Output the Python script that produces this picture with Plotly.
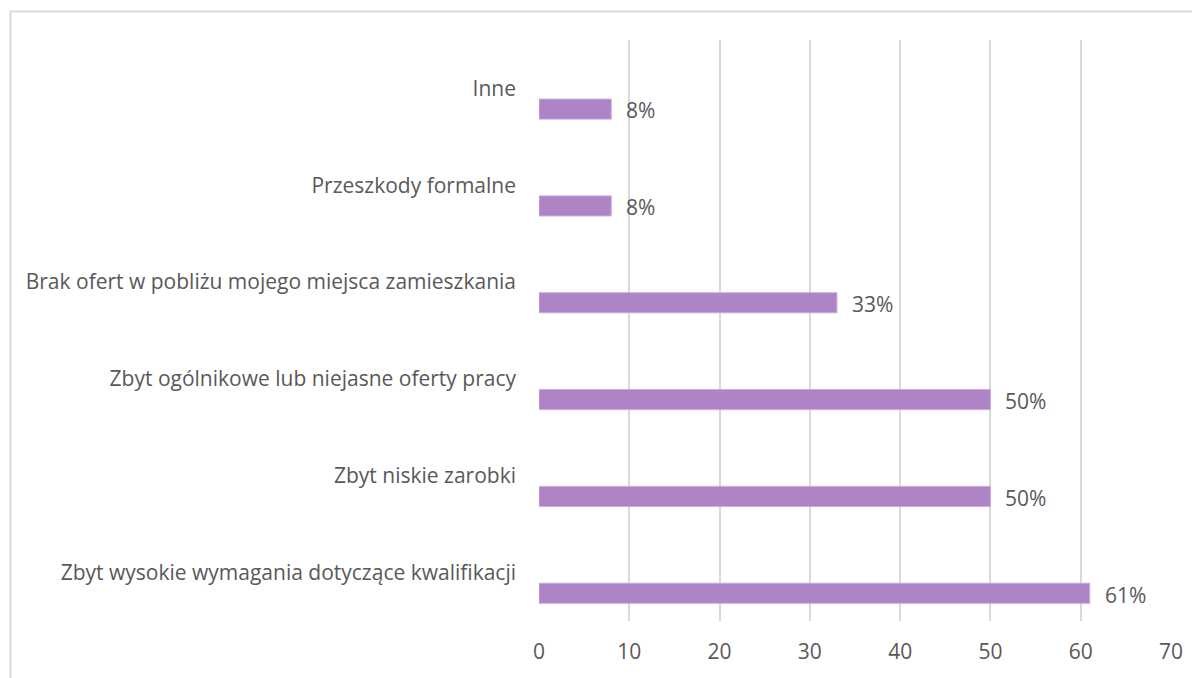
import plotly.graph_objects as go

# Categories listed bottom -> top
categories = [
    "Zbyt wysokie wymagania dotyczące kwalifikacji",
    "Zbyt niskie zarobki",
    "Zbyt ogólnikowe lub niejasne oferty pracy",
    "Brak ofert w pobliżu mojego miejsca zamieszkania",
    "Przeszkody formalne",
    "Inne",
]
values = [61, 50, 50, 33, 8, 8]
labels = ["61%", "50%", "50%", "33%", "8%", "8%"]
x_ticks = [0, 10, 20, 30, 40, 50, 60, 70]

text_color = "#595959"
bar_color = "#AE84C6"
font_family = "'Open Sans', sans-serif"
font_size = 21

fig = go.Figure()
fig.add_trace(go.Bar(
    x=values,
    y=categories,
    orientation="h",
    marker=dict(color=bar_color, line=dict(color="#C9A9DA", width=1)),
    width=0.207,
    offset=-0.317,
    hoverinfo="x+y",
))

# data labels to the right of each bar, level with the (offset) bar
for c, v, t in zip(categories, values, labels):
    fig.add_annotation(
        x=v, y=c, text=t, showarrow=False,
        xanchor="left", yanchor="middle",
        xshift=13, yshift=-22,
        font=dict(family=font_family, size=font_size, color=text_color),
    )

# light frame around the chart
fig.add_shape(
    type="rect", xref="paper", yref="paper",
    x0=-0.8362, x1=1.08, y0=-0.15, y1=1.049,
    line=dict(color="#D9D9D9", width=2), fillcolor="rgba(0,0,0,0)",
    layer="below",
)

fig.update_layout(
    width=1200,
    height=678,
    margin=dict(l=531, r=37, t=32, b=65),
    paper_bgcolor="white",
    plot_bgcolor="white",
    showlegend=False,
    font=dict(family=font_family, size=font_size, color=text_color),
    xaxis=dict(
        range=[0, 70],
        tickvals=x_ticks,
        showgrid=True,
        gridcolor="#D9D9D9",
        gridwidth=1.5,
        zeroline=False,
        showline=False,
        ticks="",
        ticklabelstandoff=16,
        tickfont=dict(size=font_size, color=text_color),
        fixedrange=True,
    ),
    yaxis=dict(
        range=[-0.5, 5.5],
        showgrid=False,
        zeroline=False,
        showline=False,
        ticks="",
        ticklabelstandoff=22,
        tickfont=dict(size=font_size, color=text_color),
        fixedrange=True,
    ),
)

fig.write_html("out.html")
